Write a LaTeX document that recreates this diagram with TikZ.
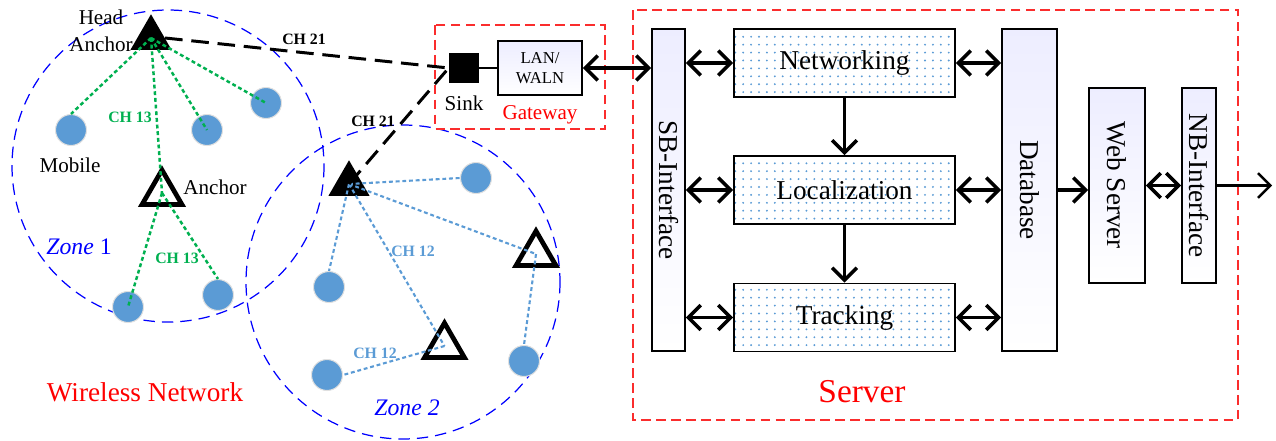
\documentclass[tikz,border=0pt]{standalone}
\usepackage{fontspec}
\setmainfont{Liberation Serif}
\usepackage{graphicx}
\usetikzlibrary{shapes.geometric,arrows.meta,patterns.meta}
\definecolor{mobblue}{RGB}{91,155,213}
\definecolor{chgrn}{RGB}{0,176,80}
\definecolor{gwred}{RGB}{250,45,45}

\begin{document}
\begin{tikzpicture}[x=0.02cm,y=-0.02cm]
        \tikzset{mobile/.style={circle, fill=mobblue, draw=black!12,
        line width=0.6pt, minimum size=0.62cm, inner sep=0pt},
        headanc/.style={regular polygon, regular polygon sides=3,
        fill=black, minimum size=0.95cm, inner sep=0pt},
        anc/.style={regular polygon, regular polygon sides=3, draw,
        line width=2.7pt, fill=white, minimum size=0.92cm, inner sep=0pt},
        zone/.style={blue, line width=0.7pt, dash pattern=on 6.5pt off 4pt},
        grnlink/.style={chgrn, line width=1.4pt, dash pattern=on 2.2pt off 1.6pt},
        bluelink/.style={mobblue, line width=1.2pt, dash pattern=on 2.2pt off 1.6pt},
        chlink/.style={line width=1.7pt, dash pattern=on 10pt off 5pt},
        redbox/.style={gwred, line width=0.9pt, dash pattern=on 5.5pt off 3pt},
        lbl/.style={font=\fontsize{12}{15.3}\selectfont, align=center},
        chlbl/.style={font=\fontsize{9}{10}\selectfont\bfseries},
        panel/.style={draw, line width=1.1pt, top color=blue!7!white,
        bottom color=white, inner sep=0pt, font=\fontsize{15.5}{18}\selectfont},
        dotbox/.style={draw, line width=1.1pt, pattern={Dots[distance=4.5pt,radius=0.6pt]},
        pattern color=mobblue, minimum width=4.42cm, minimum height=1.36cm,
        font=\fontsize{15.5}{18}\selectfont},
        tip/.tip={Straight Barb[length=7pt,width=14pt]},
        biarr/.style={line width=2pt, tip-tip},
        onearr/.style={line width=2pt, -tip}}
        \useasboundingbox (0,0) rectangle (1276,440);

        \draw[zone] (168,166) circle[radius=156];
        \draw[zone] (403,282) circle[radius=157];

        \node[mobile] (m11) at (71,130) {};
        \node[mobile] (m12) at (207,130) {};
        \node[mobile] (m13) at (266,103) {};
        \node[mobile] (m14) at (128,307) {};
        \node[mobile] (m15) at (218,295) {};
        \node[headanc] (h1) at (151,38) {};
        \node[anc] (a1) at (162,193) {};

        \node[mobile] (m21) at (476,178) {};
        \node[mobile] (m22) at (329,287) {};
        \node[mobile] (m23) at (327,375) {};
        \node[mobile] (m24) at (524,361) {};
        \node[headanc] (h2) at (349,184) {};
        \node[anc] (a21) at (536,254) {};
        \node[anc] (a22) at (444.5,346) {};

        \draw[grnlink] (h1.center) -- (m11.north);
        \draw[grnlink] (h1.center) -- (m12.center);
        \draw[grnlink] (h1.center) -- (m13.center);
        \draw[grnlink] (h1.center) -- (a1.center);
        \draw[grnlink] (a1.center) -- (m14.center);
        \draw[grnlink] (a1.center) -- (m15.north);

        \draw[bluelink] (h2.center) -- (m21.west);
        \draw[bluelink] (h2.center) -- (a21.center);
        \draw[bluelink] (h2.center) -- (a22.center);
        \draw[bluelink] (h2.center) -- (m22.north);
        \draw[bluelink] (a21.center) -- (m24.north);
        \draw[bluelink] (a22.center) -- (m23.east);

        \node[lbl] (hdlbl) at (101,31) {Head\\Anchor};
        \node[lbl] (moblbl) at (70,165) {Mobile};
        \node[lbl] (anclbl) at (215,187) {Anchor};
        \node[chlbl, chgrn] (ch13a) at (130,117) {CH 13};
        \node[chlbl, chgrn] (ch13b) at (177,258) {CH 13};
        \node[chlbl, mobblue] (ch12a) at (413,251) {CH 12};
        \node[chlbl, mobblue] (ch12b) at (375,353) {CH 12};
        \node[blue, font=\fontsize{13.5}{16}\selectfont] (z1) at (79,247) {\textit{Zone} 1};
        \node[blue, font=\fontsize{13.5}{16}\selectfont] (z2) at (407,408) {\textit{Zone 2}};
        \node[red, font=\fontsize{15.5}{18}\selectfont] (wn) at (145,392) {Wireless Network};

        % gateway
        \draw[redbox] (435,25) rectangle (605,129);
        \node[rectangle, fill=black, minimum size=0.6cm, inner sep=0pt] (sink) at (464,68) {};
        \node[panel, minimum width=1.68cm, minimum height=1.08cm, align=center,
        font=\fontsize{9.5}{11.3}\selectfont] (lan) at (540,68) {LAN/\\WALN};
        \draw[line width=1.1pt] (sink.east) -- (lan.west);
        \node[lbl] (sinklbl) at (464,103) {Sink};
        \node[lbl, red] (gwlbl) at (540,115) {Gateway};

        \draw[chlink] (h1.east) -- (sink.west);
        \draw[chlink] (h2.center) -- (sink.west);
        \node[chlbl] (ch21a) at (304,39) {CH 21};
        \node[chlbl] (ch21b) at (373,121) {CH 21};

        % server
        \draw[redbox] (633,10) rectangle (1238,420);
        \node[red, font=\fontsize{19}{22}\selectfont] (srv) at (862,392) {Server};
        \node[panel, minimum width=0.66cm, minimum height=6.44cm] (sb) at (668.5,190) {\rotatebox{-90}{SB-Interface}};
        \node[dotbox] (net) at (844.5,63) {Networking};
        \node[dotbox] (loc) at (844.5,190) {Localization};
        \node[dotbox] (trk) at (844.5,317.5) {Tracking};
        \node[panel, minimum width=1.1cm, minimum height=6.44cm] (db) at (1029.5,190) {\rotatebox{-90}{Database}};
        \node[panel, minimum width=1.12cm, minimum height=3.9cm] (web) at (1117,185.5) {\rotatebox{-90}{Web Server}};
        \node[panel, minimum width=0.68cm, minimum height=3.9cm] (nb) at (1199,185.5) {\rotatebox{-90}{NB-Interface}};
        \coordinate (exit) at (1272,185.5);

        \draw[biarr] (lan.east) -- (lan.east -| sb.west);
        \foreach \b in {net,loc,trk}{
        \draw[biarr] (sb.east |- \b.west) -- (\b.west);
        \draw[biarr] (\b.east) -- (\b.east -| db.west);}
        \draw[onearr] (net.south) -- (loc.north);
        \draw[onearr] (loc.south) -- (trk.north);
        \draw[onearr] (db.east) -- (db.east -| web.west);
        \draw[biarr] (web.east) -- (nb.west);
        \draw[line width=1.4pt, -tip] (nb.east) -- (exit);
\end{tikzpicture}
\end{document}
